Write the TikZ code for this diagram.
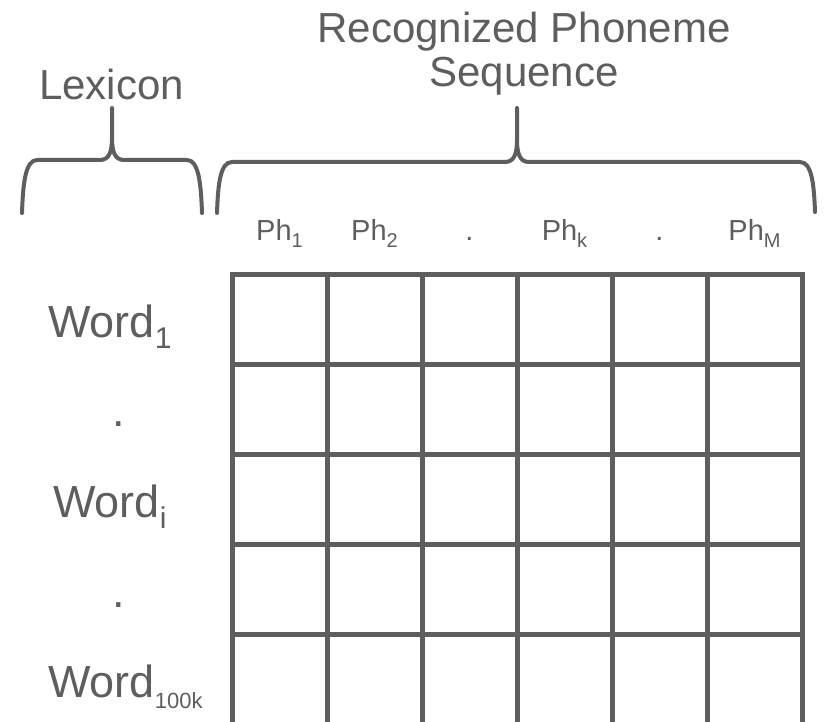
\documentclass[tikz,border=0pt]{standalone}
\usepackage{fontspec}
\setmainfont{Liberation Sans}
\usetikzlibrary{positioning}

\definecolor{slate}{HTML}{5E5E5E}
% lowered index in its own size
\newcommand{\subtxt}[2]{\raisebox{-0.25em}{\fontsize{#1}{#1}\selectfont #2}}

\begin{document}
\begin{tikzpicture}[x=1pt, y=-1pt,
    grid/.style={draw=slate, line width=5pt},
    bracket/.style={draw=slate, line width=4pt, line join=round, line cap=round},
    big/.style={text=slate, font=\fontsize{45}{46}\selectfont, inner sep=0pt},
    head/.style={text=slate, font=\fontsize{42}{44}\selectfont, inner sep=0pt, align=center},
    ph/.style={text=slate, font=\fontsize{29}{30}\selectfont, inner sep=0pt, anchor=base}
    ]

\useasboundingbox (0,0) rectangle (824,722);

% matching table
\draw[grid] (232,274) rectangle (802,724);
\foreach \c in {1,...,5}
    \draw[grid] (232+95*\c,274) -- (232+95*\c,724);
\foreach \r in {1,...,4}
    \draw[grid] (232,274+90*\r) -- (802,274+90*\r);

% column heads
\foreach \t [count=\c] in {Ph\subtxt{20}{1}, Ph\subtxt{20}{2}, ., Ph\subtxt{20}{k}, ., Ph\subtxt{20}{M}}
    \node[ph] (ph\c) at (184.5+95*\c,240) {\t};

% row heads
\node[big, anchor=base west] (w1) at (48,337) {Word\subtxt{30}{1}};
\node[big, anchor=base] (dot1) at (119,426) {.};
\node[big, anchor=base west] (wi) at (53,517) {Word\subtxt{30}{i}};
\node[big, anchor=base] (dot2) at (119,607) {.};
\node[big, anchor=base west] (wn) at (48,697) {Word\subtxt{22}{100k}};

% titles
\node[head, anchor=base] (lex) at (111.5,100) {Lexicon};
\node[head] (seq) at (524,54) {Recognized Phoneme\\Sequence};

% braces
\draw[bracket] (22,213) .. controls (23,185) and (25,160) .. (37,160) -- (100,160)
    .. controls (109,160) and (112,152) .. (112,138) -- (112,108) -- (112,138)
    .. controls (112,152) and (115,160) .. (124,160) -- (187,160)
    .. controls (199,160) and (201,185) .. (202,213);
\draw[bracket] (217,213) .. controls (218,185) and (220,162) .. (232,162) -- (505,162)
    .. controls (514,162) and (517,154) .. (517,140) -- (517,108) -- (517,140)
    .. controls (517,154) and (520,162) .. (529,162) -- (800,162)
    .. controls (812,162) and (814,185) .. (815,212);

\end{tikzpicture}
\end{document}
